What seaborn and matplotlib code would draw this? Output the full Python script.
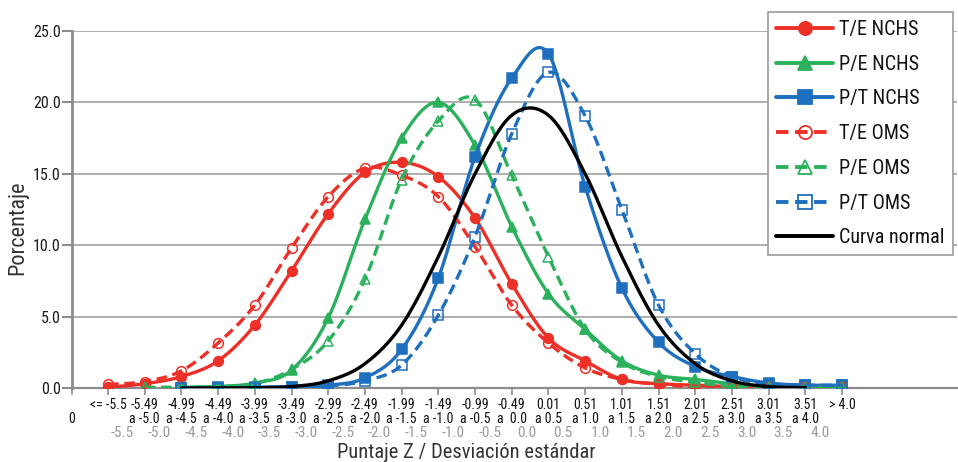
import numpy as np
import seaborn as sns
import matplotlib.pyplot as plt
from matplotlib.lines import Line2D
from matplotlib import font_manager as fm

# categories on the x axis (bins of the Z score)
categories = ['<= -5.5', '-5.49\na -5.0', '-4.99\na -4.5', '-4.49\na -4.0', '-3.99\na -3.5',
              '-3.49\na -3.0', '-2.99\na -2.5', '-2.49\na -2.0', '-1.99\na -1.5', '-1.49\na -1.0',
              '-0.99\na -0.5', '-0.49\na  0.0', '0.01\na 0.5', '0.51\na 1.0', '1.01\na 1.5',
              '1.51\na 2.0', '2.01\na 2.5', '2.51\na 3.0', '3.01\na 3.5', '3.51\na 4.0', '> 4.0']
z_labels = ['-5.5', '-5.0', '-4.5', '-4.0', '-3.5', '-3.0', '-2.5', '-2.0', '-1.5', '-1.0',
            '-0.5', '0.0', '0.5', '1.0', '1.5', '2.0', '2.5', '3.0', '3.5', '4.0']

nan = np.nan
te_nchs = [0.05, 0.3, 0.8, 1.9, 4.4, 8.2, 12.2, 15.1, 15.8, 14.8, 11.9, 7.3, 3.5, 1.9, 0.6, 0.3, 0.2, 0.1, 0.05, 0.05, 0.1]
pe_nchs = [nan, nan, 0.05, 0.1, 0.35, 1.25, 4.9, 11.8, 17.5, 20.0, 17.0, 11.3, 6.6, 4.1, 1.9, 0.9, 0.6, 0.3, 0.1, 0.05, 0.05]
pt_nchs = [nan, nan, 0.0, 0.05, 0.05, 0.1, 0.2, 0.7, 2.7, 7.7, 16.2, 21.7, 23.4, 14.1, 7.0, 3.2, 1.5, 0.8, 0.35, 0.2, 0.2]
te_oms = [0.25, 0.45, 1.2, 3.15, 5.8, 9.8, 13.4, 15.4, 14.9, 13.4, 9.9, 5.8, 3.15, 1.4, 0.6, 0.25, 0.1, 0.05, 0.05, 0.05, 0.1]
pe_oms = [nan, 0.05, 0.05, 0.1, 0.3, 1.3, 3.3, 7.6, 14.6, 18.7, 20.2, 14.9, 9.2, 4.1, 1.8, 0.8, 0.4, 0.1, 0.05, 0.05, 0.05]
pt_oms = [nan, nan, 0.0, 0.0, 0.0, 0.1, 0.15, 0.5, 1.6, 5.1, 10.6, 17.8, 22.1, 19.05, 12.5, 5.8, 2.4, 0.8, 0.3, 0.2, 0.2]
normal = [nan, nan, 0.0, 0.0, 0.02, 0.1, 0.5, 1.7, 4.4, 9.2, 15.0, 19.1, 19.1, 15.0, 9.2, 4.4, 1.7, 0.5, 0.1, 0.02, nan]

red = '#ec3028'
green = '#2bb15c'
blue = '#1f6fbf'
dash = (0, (3.2, 1.7))

series = [
    ('T/E NCHS', te_nchs, red, '-', 'o', True),
    ('P/E NCHS', pe_nchs, green, '-', '^', True),
    ('P/T NCHS', pt_nchs, blue, '-', 's', True),
    ('T/E OMS', te_oms, red, dash, 'o', False),
    ('P/E OMS', pe_oms, green, dash, '^', False),
    ('P/T OMS', pt_oms, blue, dash, 's', False),
    ('Curva normal', normal, 'black', '-', None, True),
]


def smooth(vals, n=24):
    # Excel-like smoothed line (Catmull-Rom / Bezier through the points)
    y = np.asarray(vals, float)
    x = np.arange(len(y), dtype=float)
    ok = ~np.isnan(y)
    xs, ys = x[ok], y[ok]
    t = np.linspace(0, 1, n)
    px, py = [], []
    for i in range(len(xs) - 1):
        i0, i3 = max(i - 1, 0), min(i + 2, len(xs) - 1)
        for arr, out in ((xs, px), (ys, py)):
            p1, p2 = arr[i], arr[i + 1]
            c1 = p1 + (p2 - arr[i0]) / 6
            c2 = p2 - (arr[i3] - p1) / 6
            out.extend((1 - t) ** 3 * p1 + 3 * (1 - t) ** 2 * t * c1 + 3 * (1 - t) * t ** 2 * c2 + t ** 3 * p2)
    return np.array(px), np.array(py)


# pick a narrow font if one is installed
fonts = fm.fontManager.ttflist
family, stretch = 'DejaVu Sans', 'normal'
for name, st in [('Liberation Sans Narrow', None), ('Roboto Condensed', None),
                 ('DejaVu Sans', 'condensed'), ('Roboto', None)]:
    hits = [f for f in fonts if f.name == name and (st is None or f.stretch == st)]
    if hits:
        family, stretch = name, (st or 'normal')
        break

sns.set_theme(style='white')
plt.rcParams['font.family'] = [family, 'DejaVu Sans']
plt.rcParams['font.stretch'] = stretch

fig = plt.figure(figsize=(9.58, 4.62), dpi=100)
ax = fig.add_axes([72 / 958, 1 - 388 / 462, (957 - 72) / 958, 357 / 462])

x_idx = np.arange(len(categories))
handles = []
for k, (name, vals, col, ls, mk, filled) in enumerate(series):
    sx, sy = smooth(vals)
    sns.lineplot(x=sx, y=sy, ax=ax, color=col, linewidth=2.4, linestyle=ls,
                 sort=False, estimator=None, zorder=3 + k)
    if mk is not None:
        ax.plot(x_idx, vals, ls='none', marker=mk, ms=7 if mk != '^' else 7.5,
                mfc=col if filled else 'none', mec=col, mew=1.1, zorder=3 + k)
    handles.append(Line2D([], [], color=col, lw=2.8, ls=ls, marker=mk, ms=9.5,
                          mfc=col if filled else 'none', mec=col, mew=1.3))

x_left = -0.98
ax.set_xlim(x_left, 23.13)
ax.set_ylim(0, 25)
ax.set_yticks(np.arange(0, 25.1, 5))
ax.set_yticklabels([f'{v:.1f}' for v in np.arange(0, 25.1, 5)], fontsize=11.5, color='#1a1a1a')
ax.set_xticks([x_left] + list(x_idx))
ax.set_xticklabels(['\n0'] + categories, fontsize=10, color='#111111', linespacing=1.02)
ax.tick_params(axis='x', length=5, color='#8c8c8c', width=1.2, pad=2, bottom=True)
ax.tick_params(axis='y', length=7, color='#8c8c8c', width=1.5, pad=1, left=True)

ax.yaxis.grid(True, color='#a8a8a8', lw=1.3)
ax.xaxis.grid(False)
ax.set_axisbelow(True)
for s in ['top', 'right']:
    ax.spines[s].set_visible(False)
ax.spines['left'].set_color('#8c8c8c')
ax.spines['left'].set_linewidth(2)
ax.spines['bottom'].set_color('#8c8c8c')
ax.spines['bottom'].set_linewidth(1.6)

# second row of x labels (Z values, grey)
for j, lab in enumerate(z_labels):
    ax.text(j + 0.4, -0.126, lab, transform=ax.get_xaxis_transform(),
            ha='center', va='center', fontsize=11, color='#9a9a9a')

ax.set_xlabel('')
ax.set_ylabel('')
fig.text(466 / 958, 1 - 453 / 462, 'Puntaje Z / Desviación estándar', ha='center', va='center',
         fontsize=14.8, color='#333333')
fig.text(18 / 958, 1 - 228 / 462, 'Porcentaje', ha='center', va='center', rotation=90,
         fontsize=16, color='#333333')

leg = fig.legend(handles, [s[0] for s in series], loc='upper left',
                 bbox_to_anchor=(768 / 958, 1 - 12 / 462), fontsize=14.5, frameon=True,
                 fancybox=False, framealpha=1, edgecolor='#999999', handlelength=2.85,
                 handletextpad=0.3, labelspacing=0.78, borderpad=0.4, borderaxespad=0)
leg.get_frame().set_linewidth(1.2)
for t in leg.get_texts():
    t.set_color('#111111')

fig.savefig('out.png', dpi=100)
